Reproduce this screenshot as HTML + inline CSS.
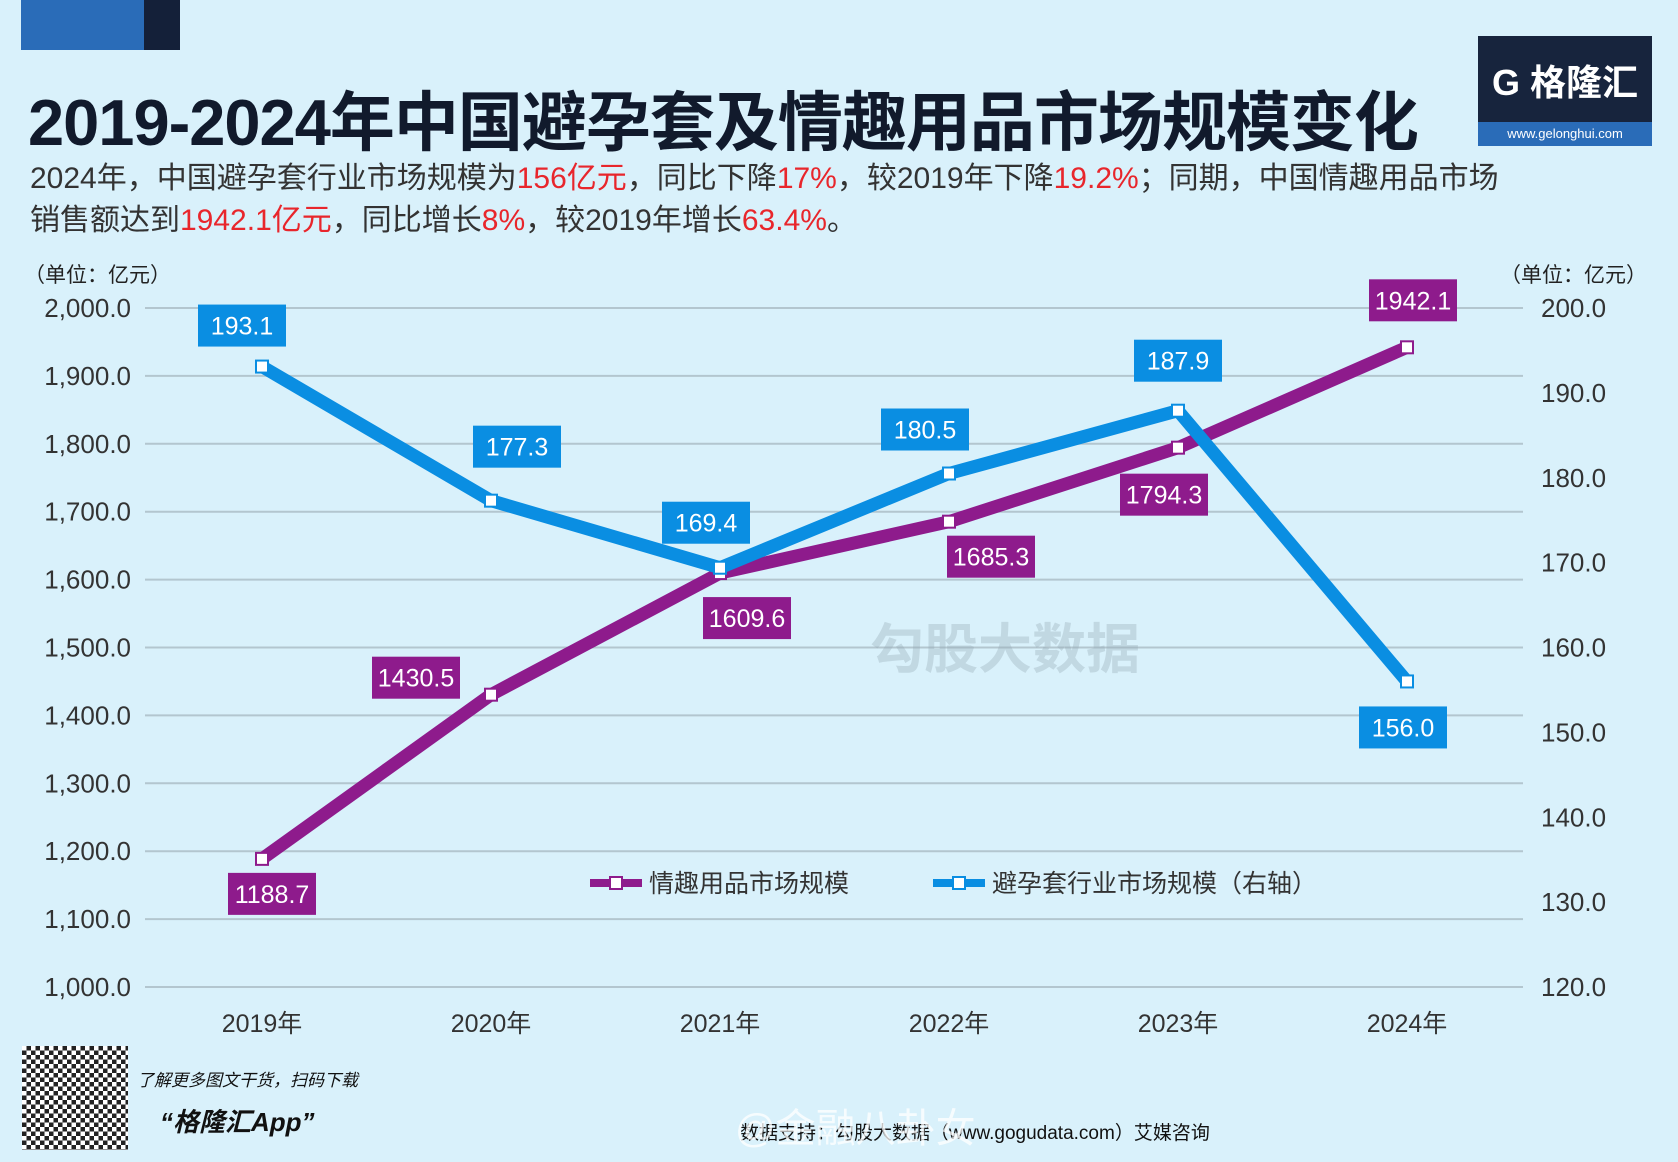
<!DOCTYPE html>
<html><head><meta charset="utf-8"><style>
body{margin:0;width:1678px;height:1162px;background:#d9f1fb;overflow:hidden;font-family:"Liberation Sans","Noto Sans CJK SC",sans-serif;position:relative}
.abs{position:absolute}
.red{color:#e8262c}
</style></head><body>
<div class="abs" style="left:21px;top:0;width:123px;height:50px;background:#2a6cb8"></div>
<div class="abs" style="left:144px;top:0;width:36px;height:50px;background:#142039"></div>
<div class="abs" style="left:1478px;top:36px;width:174px;height:110px;background:#17243d">
 <div style="position:absolute;left:0;top:18px;width:174px;text-align:center;color:#fff;font-size:36px;font-weight:bold">G 格隆汇</div>
 <div style="position:absolute;left:0;bottom:0;width:174px;height:24px;background:#2a6cb8;color:#fff;font-size:13px;text-align:center;line-height:24px">www.gelonghui.com</div>
</div>
<div class="abs" style="left:28px;top:70px;font-size:65px;font-weight:bold;color:#111a2c;letter-spacing:-1px;white-space:nowrap">2019-2024年中国避孕套及情趣用品市场规模变化</div>
<div class="abs" style="left:30px;top:158px;font-size:30px;line-height:42px;color:#333;width:1520px">2024年，中国避孕套行业市场规模为<span class="red">156亿元</span>，同比下降<span class="red">17%</span>，较2019年下降<span class="red">19.2%</span>；同期，中国情趣用品市场<br>销售额达到<span class="red">1942.1亿元</span>，同比增长<span class="red">8%</span>，较2019年增长<span class="red">63.4%</span>。</div>
<div class="abs" style="left:24px;top:259px;font-size:21px;color:#222">（单位：亿元）</div>
<div class="abs" style="left:1500px;top:259px;font-size:21px;color:#222">（单位：亿元）</div>
<svg class="abs" style="left:0;top:0" width="1678" height="1162" id="chart"></svg>
<div class="abs" style="left:22px;top:1046px;width:106px;height:104px;background-color:#fff;background-image:repeating-conic-gradient(#222 0 25%,#fff 0 50%);background-size:9px 9px"></div>
<div class="abs" style="left:137px;top:1066px;font-size:17px;font-style:italic;color:#111">了解更多图文干货，扫码下载</div>
<div class="abs" style="left:160px;top:1102px;font-size:26px;font-weight:bold;font-style:italic;color:#111">“格隆汇App”</div>
<div class="abs" style="left:740px;top:1118px;font-size:19px;color:#111">数据支持：勾股大数据（www.gogudata.com）艾媒咨询</div>
<div class="abs" style="left:735px;top:1096px;font-size:40px;color:rgba(255,255,255,0.75)">@金融八卦女</div>
<div class="abs" style="left:870px;top:605px;font-size:54px;color:rgba(150,170,180,0.35);font-weight:bold">勾股大数据</div>
<script>
const categories=["2019年","2020年","2021年","2022年","2023年","2024年"];
const purpleValues=[1188.7,1430.5,1609.6,1685.3,1794.3,1942.1];
const blueValues=[193.1,177.3,169.4,180.5,187.9,156.0];
const leftTicks=[1000,1100,1200,1300,1400,1500,1600,1700,1800,1900,2000];
const rightTicks=[120,130,140,150,160,170,180,190,200];
const purpleOffsets=[[10,35],[-75,-17],[27,45],[42,35],[-14,47],[6,-47]];
const blueOffsets=[[-20,-41],[26,-54],[-14,-45],[-24,-44],[0,-50],[-4,46]];
const svg=document.getElementById('chart');const NS='http://www.w3.org/2000/svg';
const X0=145,X1=1523,Y0=987,Y1=308;
const xs=i=>262+i*229;
const yl=v=>Y0-(v-1000)/1000*(Y0-Y1);
const yr=v=>Y0-(v-120)/80*(Y0-Y1);
function mk(t,a){const e=document.createElementNS(NS,t);for(const k in a)e.setAttribute(k,a[k]);svg.appendChild(e);return e;}
leftTicks.forEach(v=>{
 const l=mk('line',{x1:X0,x2:X1,y1:yl(v),y2:yl(v),stroke:'#b3c6cf','stroke-width':2});
 
 
 const t=mk('text',{x:131,y:yl(v)+9,'text-anchor':'end','font-size':26,fill:'#333'});t.textContent=v.toLocaleString('en-US',{minimumFractionDigits:1});
 
 
});
rightTicks.forEach(v=>{
 const t=mk('text',{x:1541,y:yr(v)+9,'font-size':26,fill:'#333'});t.textContent=v.toFixed(1);
 
 
});
categories.forEach((c,i)=>{
 const t=mk('text',{x:xs(i),y:1032,'text-anchor':'middle','font-size':25,fill:'#333'});t.textContent=c;
 
 
});
function series(vals,yf,color,offs,name){
 const p=mk('polyline',{points:vals.map((v,i)=>xs(i)+','+yf(v)).join(' '),fill:'none',stroke:color,'stroke-width':13,'stroke-linejoin':'round'});
 
 
 vals.forEach((v,i)=>{
  const m=mk('rect',{x:xs(i)-6,y:yf(v)-6,width:12,height:12,fill:'#fff',stroke:color,'stroke-width':2});
  
  
  const cx=xs(i)+offs[i][0],cy=yf(v)+offs[i][1];
  const b=mk('rect',{x:cx-44,y:cy-21,width:88,height:42,fill:color});
  
  
  const t=mk('text',{x:cx,y:cy+9,'text-anchor':'middle','font-size':25,fill:'#fff'});t.textContent=v.toFixed(1);
  
  
 });
}
series(purpleValues,yl,'#8e1b8c',purpleOffsets,'purple');
series(blueValues,yr,'#0a8ee2',blueOffsets,'blue');
[[590,'#8e1b8c','情趣用品市场规模','legend-purple'],[933,'#0a8ee2','避孕套行业市场规模（右轴）','legend-blue']].forEach(([x,c,txt,n])=>{
 const l=mk('line',{x1:x,x2:x+52,y1:883,y2:883,stroke:c,'stroke-width':8});
 
 
 const r=mk('rect',{x:x+20,y:877,width:12,height:12,fill:'#fff',stroke:c,'stroke-width':2});
 
 
 const t=mk('text',{x:x+59,y:892,'font-size':25,fill:'#333'});t.textContent=txt;
 
 
});
</script>
</body></html>
